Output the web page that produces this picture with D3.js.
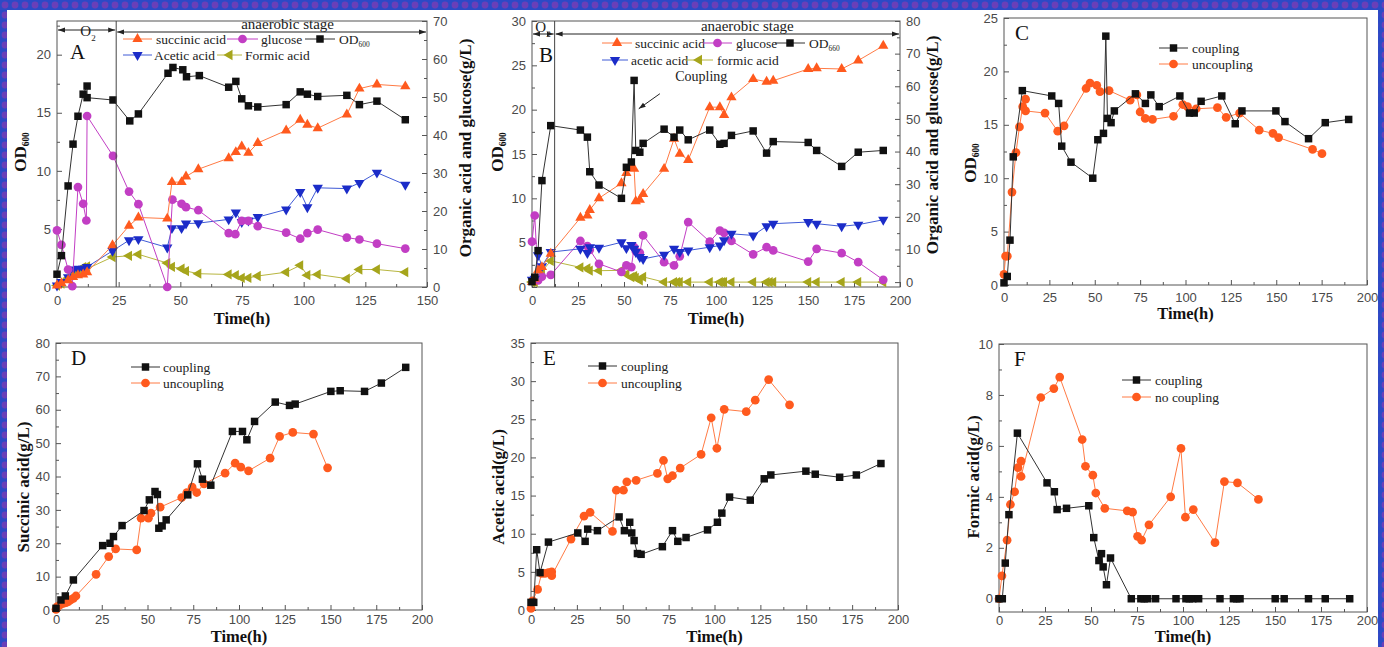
<!DOCTYPE html>
<html>
<head>
<meta charset="utf-8">
<script src="https://cdn.jsdelivr.net/npm/d3@7"></script>
<style>
  body { margin: 0; background: #fff; }
  text { font-family: "Liberation Serif", "Times New Roman", serif; }
  .tick text { font-family: "Liberation Sans", Arial, sans-serif; font-size: 13px; fill: #4a4a4a; }
  .tick line { stroke: #555; }
</style>
</head>
<body>
<svg id="chart" width="1384" height="647"></svg>
<script>
// ---- data (time h, value) ----
// panel A: uncoupling fermentation
var aOD = [[0,1.1],[1.8,2.7],[4.5,8.7],[6.5,12.3],[8.5,14.7],[10.6,16.6],[12.2,17.3],[12.2,16.3],[22.7,16.1],[29.5,14.3],[33,14.9],[45,18.4],[47,18.9],[51,18.7],[52.5,18.1],[57.7,18.2],[69.6,17.2],[72.5,17.7],[74.9,16.2],[77.6,15.6],[81.4,15.5],[92.9,15.7],[98.6,16.8],[101.5,16.6],[105.7,16.4],[117.5,16.5],[122.6,15.7],[129.7,16.0],[141.2,14.4]];
var aSuccinic = [[0,0.4],[1.8,1],[4.5,1.8],[6.5,2.6],[8.5,3.1],[10.6,3.3],[12.2,3.9],[22.5,11],[29.2,16.1],[33,18.3],[44.7,18],[46.6,27.6],[50.5,27.6],[52.3,29.1],[57.3,31],[69.6,33.9],[72.5,35.5],[74.9,37],[77.6,35.3],[81.4,37.9],[92.9,41.2],[98.6,44],[101.5,42.7],[105.7,41.8],[117.5,45.4],[122.6,52.2],[129.7,53.3],[141.2,52.8]];
var aGlucose = [[0,14.9],[1.8,11.1],[4.5,4.6],[6.2,0.2],[8.5,26.3],[10.6,21.9],[11.9,17.5],[12.2,45],[22.7,34.5],[29.2,25.1],[33,21.8],[44.7,0],[46.8,23],[50.5,21.9],[52.3,21],[57.3,20.2],[69.6,14.2],[72.3,13.9],[74.9,17.4],[77.6,17.4],[81.4,16],[92.9,14.3],[98.6,12.7],[101.5,14.2],[105.7,15.1],[117.5,13],[122.6,12.5],[129.7,11.4],[141.2,10.1]];
var aAcetic = [[0,0.4],[1.8,1.3],[4.5,2.6],[6.5,4.6],[8.5,4.8],[10.6,4.8],[12.2,5.3],[22.5,9.5],[29.2,12.3],[33,12.6],[44.7,10.4],[46.6,15.5],[50.5,15.5],[52.3,16.7],[57.3,16.8],[69.6,17.8],[72.5,19.6],[74.9,17.1],[77.6,17.5],[81.4,18.4],[92.9,20.4],[98.6,25],[101.5,21],[105.7,26.1],[117.5,25.9],[122.6,27.4],[129.7,30.1],[141.2,26.9]];
var aFormic = [[0,0.4],[1.8,0.9],[4.5,2.3],[6.5,3.7],[8.5,4.2],[10.6,5.2],[12.2,5.4],[12.2,4.8],[22.5,7.9],[29.2,8.2],[33,8.6],[44.7,6.3],[46.6,5.3],[50.5,4.8],[52.3,4.2],[57.3,3.5],[69.6,3.3],[72.5,3.1],[74.9,2.4],[77.6,2.4],[81.4,2.9],[92.9,3.9],[98.6,5.7],[101.5,3.1],[105.7,3.3],[117.5,2.2],[122.6,4.6],[129.7,4.6],[141.2,3.9]];

// panel B: coupling fermentation
var bOD = [[0,0.6],[1.5,1.1],[3.3,4.1],[5.4,12],[10.2,18.2],[26.3,17.7],[30.1,16.9],[31.4,13],[36.4,11.5],[48.6,10],[51.3,13.5],[54,14.1],[55.5,23.3],[56.4,15.4],[58.6,15.2],[60.4,16.2],[71.8,17.8],[77.2,16.9],[80.3,17.7],[84.9,16.6],[96.6,17.7],[102.1,16.1],[104.4,16.2],[108.4,17.1],[120.2,17.6],[127.5,15.1],[131.1,16.4],[150.1,16.3],[154.7,15.4],[168.3,13.6],[177.3,15.2],[190.9,15.4]];
var bSuccinic = [[0,0],[1.5,1],[3.3,3.6],[5.4,4.6],[10.2,8.7],[26.3,19.7],[30.1,20.4],[31.4,22.1],[36.4,25.7],[48.6,30.3],[51.3,33.4],[54,35.2],[55.5,34.7],[56.4,24.8],[58.6,25.2],[60.4,27],[71.8,34.7],[77.2,43.9],[80.3,39.3],[84.9,37.4],[96.6,53.6],[102.1,53.6],[104.4,51.2],[108.4,56.6],[120.2,62.2],[127.5,61.4],[131.1,61.7],[150.1,65.3],[154.7,65.5],[168.3,65.3],[177.3,67.9],[190.9,72.4]];
var bGlucose = [[0,12.4],[1.5,20.4],[3.3,0.5],[5.4,1.7],[10.2,2.2],[26.3,12.6],[30.1,11],[31.4,9.9],[36.4,5.6],[48.6,3.1],[51.3,5.1],[54,4.6],[55.5,10.7],[56.4,9.5],[58.6,9],[60.4,14.3],[71.8,6.1],[77.2,5.1],[80.3,7.9],[84.9,18.4],[96.6,12.4],[102.1,15.8],[104.4,15.1],[108.4,12.6],[120.2,8.5],[127.5,10.7],[131.1,9.7],[150.1,6.3],[154.7,10.2],[168.3,8.9],[177.3,6.1],[190.9,0.7]];
var bAcetic = [[0,0.7],[1.5,1.0],[3.3,8.2],[5.4,4.9],[10.2,9.2],[26.3,10.2],[30.1,8.9],[31.4,10.7],[36.4,10.5],[48.6,12.2],[51.3,10.4],[54,11.4],[55.5,10.2],[56.4,9.2],[58.6,7.7],[60.4,7.1],[71.8,8.4],[77.2,10.2],[80.3,9.2],[84.9,9.7],[96.6,10.7],[102.1,11.2],[104.4,12.8],[108.4,14.8],[120.2,14.3],[127.5,17.1],[131.1,17.9],[150.1,18.4],[154.7,17.9],[168.3,17.1],[177.3,17.6],[190.9,19.1]];
var bFormic = [[0,0],[1.5,0],[3.3,1.4],[5.4,3.3],[10.2,6.5],[26.3,4.5],[30.1,4.2],[31.4,3.5],[36.4,3.5],[48.6,3.6],[51.3,2.4],[54,1.5],[55.5,1.8],[56.4,1.3],[58.6,0.55],[60.4,1.6],[71.8,0],[77.2,0],[78.9,0],[80.3,0],[84.9,0],[96.6,0],[102.1,0],[103.4,0],[104.4,0],[108.4,0],[120.2,0],[127.5,0],[129.2,0],[131.1,0],[150.1,0],[154.7,0],[168.3,0],[177.3,0],[190.9,0]];

// panel C: OD600
var cCoupling = [[0,0.2],[1.8,0.8],[3.3,4.2],[5.1,12],[10.1,18.2],[26.3,17.7],[30.1,17],[31.8,13],[36.9,11.5],[48.9,10],[51.7,13.6],[54.8,14.2],[56.1,23.3],[57,15.6],[59,15.2],[60.8,16.3],[72.4,17.9],[77.9,17],[80.9,17.8],[85.5,16.7],[96.9,17.7],[102.2,16.1],[104.8,16.1],[108.6,17.2],[120,17.7],[127.4,15.1],[131.1,16.3],[149.8,16.3],[154.8,15.3],[167.8,13.7],[177,15.2],[189.9,15.5]];
var cUncoupling = [[0,1],[0.9,2.7],[1.8,2.7],[4.4,8.7],[6.6,12.4],[8.5,14.8],[10.3,16.7],[11.9,17.4],[11.9,16.3],[22.6,16.1],[29.6,14.4],[33.1,14.9],[45.2,18.4],[47.4,18.9],[51.1,18.7],[52.9,18.1],[57.9,18.2],[69.5,17.3],[73.2,17.8],[75,16.2],[77.8,15.6],[81.8,15.5],[93.4,15.8],[98.5,16.9],[101.1,16.7],[105.9,16.5],[117.6,16.6],[122.4,15.7],[129.8,16.1],[140.6,14.5],[148.2,14.2],[151.3,13.8],[170,12.7],[175.2,12.3]];

// panel D: succinic acid
var dCoupling = [[0,0.5],[2.7,3],[5.1,4.2],[9.5,9],[25.5,19.3],[29.5,20],[31.4,22],[36.1,25.3],[48.1,29.8],[51,33],[54.1,35.5],[55.4,34.6],[56.2,24.5],[58,25.2],[60.2,27],[72,34.5],[77.3,43.8],[80,39.2],[84.6,37.4],[96.4,53.5],[101.9,53.5],[104.3,51],[108.5,56.5],[119.8,62.3],[127.6,61.3],[130.7,61.7],[150.2,65.5],[155.3,65.7],[168.6,65.5],[177.8,68],[191.1,72.7]];
var dUncoupling = [[0,0.2],[0.7,1],[2.2,1.5],[4,2],[5.5,2.2],[6.7,2.5],[8,3],[9.5,3.5],[10.9,4.2],[21.9,10.7],[28.8,16],[32.6,18.3],[44.1,18],[46.5,27.5],[50.5,27.5],[51.9,29],[56.9,30.8],[68.7,33.7],[71.5,35.2],[74.4,36.8],[76.9,35.2],[80.9,37.8],[92.4,41],[97.9,44],[101,42.8],[105.2,41.7],[117,45.5],[122.2,52],[129.4,53.2],[140.7,52.7],[148.4,42.6]];

// panel E: acetic acid
var eCoupling = [[0,1],[1.5,1],[3.1,7.9],[4.9,4.9],[9.5,8.9],[25.5,10.1],[29.5,9],[30.9,10.6],[36.2,10.4],[48,12.2],[50.9,10.4],[53.8,11.5],[54.9,10.1],[56.2,9.1],[58,7.4],[60,7.3],[71.6,8.3],[77.1,10.4],[80,9],[84.5,9.5],[96.2,10.5],[101.6,11.5],[104,12.7],[108.2,14.8],[119.5,14.4],[127.1,17.2],[130.7,17.7],[149.8,18.2],[154.9,17.8],[168.2,17.4],[177.3,17.7],[190.7,19.2]];
var eUncoupling = [[0,0.2],[0.9,1.2],[3.6,2.7],[5.8,4.8],[7.6,4.8],[9.5,4.9],[11.3,5],[11.3,4.5],[21.8,9.3],[28.9,12.3],[32.2,12.8],[44.4,10.3],[46.5,15.7],[50.4,15.7],[52.2,16.8],[57.3,17],[68.9,17.9],[72.2,19.6],[74.5,17.2],[77.1,17.6],[81.3,18.6],[92.7,20.4],[98.2,25.2],[101.3,21.2],[105.3,26.3],[117.3,26],[122.2,27.5],[129.5,30.2],[140.9,26.9]];

// panel F: formic acid
var fCoupling = [[0,0],[1.8,0],[3.4,1.4],[5.4,3.3],[10,6.5],[26.1,4.55],[30.1,4.2],[31.6,3.5],[36.7,3.55],[48.8,3.65],[51.5,2.4],[54.3,1.5],[55.7,1.77],[56.6,1.25],[58.4,0.55],[60.6,1.6],[71.9,0],[77.1,0],[78.9,0],[80.8,0],[85.1,0],[96.2,0],[101.6,0],[103.4,0],[105.3,0],[108.5,0],[120.1,0],[127.4,0],[129.2,0],[131,0],[150.1,0],[155,0],[168.2,0],[177.3,0],[190.6,0]];
var fNoCoupling = [[0,0],[1.6,0.9],[4.4,2.3],[6.2,3.7],[8.5,4.2],[10.3,5.15],[12,5.4],[12,4.8],[22.7,7.9],[29.8,8.25],[33,8.7],[45.2,6.25],[47,5.2],[51,4.85],[52.6,4.15],[57.5,3.55],[69.7,3.45],[72.6,3.4],[75.3,2.45],[77.5,2.3],[81.5,2.9],[93.3,4],[98.9,5.9],[101.3,3.2],[105.6,3.5],[117.4,2.2],[122.5,4.6],[129.6,4.55],[141,3.9]];

// stage boundaries (h)
var aerobicEndA = 24;
var aerobicEndB = 12.3;

// tick values
var xTicks150 = d3.range(0, 151, 25);
var xTicks200 = d3.range(0, 201, 25);

var colors = {
  orange: "#ff5a1e", orangeLine: "#ff7b45",
  magenta: "#c23ec4", black: "#111", blackLine: "#333",
  blue: "#1b2cc8", blueLine: "#3f5ad6",
  olive: "#a6a51c", oliveLine: "#b8b640"
};

var svg = d3.select("#chart");
var defs = svg.append("defs");

// dotted blue page background
var pat = defs.append("pattern").attr("id", "dots")
  .attr("width", 10).attr("height", 10).attr("patternUnits", "userSpaceOnUse");
pat.append("rect").attr("width", 10).attr("height", 10).attr("fill", "#2b4ac6");
pat.append("circle").attr("cx", 5).attr("cy", 5).attr("r", 3.4).attr("fill", "#6a3fb8");

defs.append("marker").attr("id", "arr")
  .attr("viewBox", "0 0 10 10").attr("refX", 10).attr("refY", 5)
  .attr("markerWidth", 7).attr("markerHeight", 7)
  .attr("orient", "auto-start-reverse")
  .append("path").attr("d", "M0,1.5L10,5L0,8.5Z").attr("fill", "#222");

svg.append("rect").attr("width", 1384).attr("height", 647).attr("fill", "url(#dots)");
svg.append("rect").attr("x", 7).attr("y", 10).attr("width", 1371).attr("height", 637).attr("fill", "#fff");

var shapes = {
  square: { type: d3.symbolSquare, size: 56, rot: 0 },
  circle: { type: d3.symbolCircle, size: 60, rot: 0 },
  up: { type: d3.symbolTriangle, size: 46, rot: 0 },
  down: { type: d3.symbolTriangle, size: 46, rot: 180 },
  left: { type: d3.symbolTriangle, size: 46, rot: -90 }
};

function marker(g, px, py, shape, color) {
  var s = shapes[shape];
  g.append("path")
    .attr("d", d3.symbol().type(s.type).size(s.size)())
    .attr("transform", "translate(" + px + "," + py + ") rotate(" + s.rot + ")")
    .attr("fill", color);
}

function series(g, data, x, y, shape, color, lineColor) {
  g.append("path")
    .datum(data)
    .attr("fill", "none")
    .attr("stroke", lineColor)
    .attr("stroke-width", 1)
    .attr("d", d3.line().x((d) => x(d[0])).y((d) => y(d[1])));
  data.forEach((d) => marker(g, x(d[0]), y(d[1]), shape, color));
}

function odText(sel, sub) {
  sel.text("OD");
  sel.append("tspan").attr("font-size", "0.55em").attr("dy", "0.35em").text(sub);
}

function legendItem(g, x1, x2, yy, shape, color, lineColor, label, tx, sub) {
  g.append("line").attr("x1", x1).attr("x2", x2).attr("y1", yy).attr("y2", yy)
    .attr("stroke", lineColor).attr("stroke-width", 1);
  marker(g, (x1 + x2) / 2, yy, shape, color);
  var t = g.append("text").attr("x", tx).attr("y", yy + 5)
    .attr("font-size", "13.5px").attr("fill", "#222");
  if (sub) odText(t, sub); else t.text(label);
}

function yTitle(g, px, py, label, sub) {
  var t = g.append("text")
    .attr("transform", "translate(" + px + "," + py + ") rotate(-90)")
    .attr("text-anchor", "middle")
    .attr("font-size", "17px").attr("font-weight", "bold").attr("fill", "#111");
  if (sub) odText(t, sub); else t.text(label);
}

function panel(p) {
  var g = svg.append("g");
  var x = d3.scaleLinear().domain(p.xDomain).range([p.left, p.right]);
  var y = d3.scaleLinear().domain(p.yDomain).range([p.bottom, p.top]);
  var y2 = p.y2Domain ? d3.scaleLinear().domain(p.y2Domain).range([p.bottom, p.top]) : null;

  var xMinor = d3.range(p.xDomain[0] + 12.5, p.xDomain[1], 25);
  g.append("g").attr("transform", "translate(0," + p.bottom + ")")
    .call(d3.axisBottom(x).tickValues(p.xTicks).tickSize(-5).tickPadding(p.xPad))
    .call((a) => a.select(".domain").remove());
  g.append("g").attr("transform", "translate(0," + p.bottom + ")")
    .call(d3.axisBottom(x).tickValues(xMinor).tickSize(-3).tickFormat(""))
    .call((a) => a.select(".domain").remove());

  g.append("g").attr("transform", "translate(" + p.left + ",0)")
    .call(d3.axisLeft(y).tickValues(p.yTicks).tickSize(-5).tickPadding(6))
    .call((a) => a.select(".domain").remove());
  g.append("g").attr("transform", "translate(" + p.left + ",0)")
    .call(d3.axisLeft(y).tickValues(p.yMinor).tickSize(-3).tickFormat(""))
    .call((a) => a.select(".domain").remove());

  if (y2) {
    g.append("g").attr("transform", "translate(" + p.right + ",0)")
      .call(d3.axisRight(y2).tickValues(p.y2Ticks).tickSize(-5).tickPadding(6))
      .call((a) => a.select(".domain").remove());
    g.append("g").attr("transform", "translate(" + p.right + ",0)")
      .call(d3.axisRight(y2).tickValues(p.y2Minor).tickSize(-3).tickFormat(""))
      .call((a) => a.select(".domain").remove());
  }

  g.append("rect")
    .attr("x", p.left).attr("y", p.top)
    .attr("width", p.right - p.left).attr("height", p.bottom - p.top)
    .attr("fill", "none").attr("stroke", "#555").attr("stroke-width", 1);

  p.series.forEach((s) => series(g, s.data, x, s.right ? y2 : y, s.shape, s.color, s.line));

  g.append("text").attr("x", p.letterX).attr("y", p.letterY)
    .attr("font-size", "21px").attr("fill", "#111").text(p.letter);

  g.append("text").attr("x", (p.left + p.right) / 2).attr("y", p.bottom + p.titleDy)
    .attr("text-anchor", "middle").attr("font-size", "16.5px").attr("font-weight", "bold")
    .attr("fill", "#111").text("Time(h)");

  return { g: g, x: x, y: y, y2: y2 };
}

function stages(pp, p, tEnd, o2Y, anY, o2X, o2TextY, anShift) {
  var g = pp.g, x = pp.x;
  g.append("line").attr("x1", x(tEnd)).attr("x2", x(tEnd))
    .attr("y1", p.top).attr("y2", p.bottom).attr("stroke", "#444");
  // aerobic arrow with O2 label
  g.append("line").attr("x1", x(p.xDomain[0]) + 1).attr("x2", x(tEnd) - 1)
    .attr("y1", o2Y).attr("y2", o2Y).attr("stroke", "#222")
    .attr("marker-start", "url(#arr)").attr("marker-end", "url(#arr)");
  var o2 = g.append("text").attr("x", o2X).attr("y", o2TextY)
    .attr("text-anchor", "middle").attr("font-family", "Liberation Sans, Arial, sans-serif")
    .attr("font-size", "15px").attr("fill", "#222");
  o2.text("O");
  o2.append("tspan").attr("font-size", "9px").attr("dy", 5).text("2");
  // anaerobic arrow
  g.append("line").attr("x1", x(tEnd) + 1).attr("x2", x(p.xDomain[1]) - 1)
    .attr("y1", anY).attr("y2", anY).attr("stroke", "#222")
    .attr("marker-start", "url(#arr)").attr("marker-end", "url(#arr)");
  g.append("text").attr("x", (x(tEnd) + x(p.xDomain[1])) / 2 + anShift).attr("y", anY - 3)
    .attr("text-anchor", "middle").attr("font-size", "15px").attr("fill", "#222")
    .text("anaerobic stage");
}

// ---------- Panel A ----------
var pA = {
  left: 57, right: 427, top: 21, bottom: 287, titleDy: 37, xPad: 9,
  xDomain: [0, 150], xTicks: xTicks150,
  yDomain: [0, 22.9], yTicks: d3.range(0, 21, 5), yMinor: d3.range(2.5, 23, 5),
  y2Domain: [0, 70], y2Ticks: d3.range(0, 71, 10), y2Minor: d3.range(5, 70, 10),
  letter: "A", letterX: 70, letterY: 59,
  series: [
    { data: aFormic, right: true, shape: "left", color: colors.olive, line: colors.oliveLine },
    { data: aAcetic, right: true, shape: "down", color: colors.blue, line: colors.blueLine },
    { data: aGlucose, right: true, shape: "circle", color: colors.magenta, line: colors.magenta },
    { data: aSuccinic, right: true, shape: "up", color: colors.orange, line: colors.orangeLine },
    { data: aOD, right: false, shape: "square", color: colors.black, line: colors.blackLine }
  ]
};
var A = panel(pA);
stages(A, pA, aerobicEndA, 30, 32, 88, 36, 16);
legendItem(A.g, 123, 152, 39, "up", colors.orange, colors.orangeLine, "succinic acid", 156);
legendItem(A.g, 227, 258, 39, "circle", colors.magenta, colors.magenta, "glucose", 261);
legendItem(A.g, 305, 335, 39, "square", colors.black, colors.blackLine, "", 339, "600");
legendItem(A.g, 123, 152, 55, "down", colors.blue, colors.blueLine, "Acetic acid", 154);
legendItem(A.g, 217, 242, 55, "left", colors.olive, colors.oliveLine, "Formic acid", 245);
yTitle(A.g, 26, 152, "", "600");
yTitle(A.g, 471, 148, "Organic acid and glucose(g/L)");

// ---------- Panel B ----------
var pB = {
  left: 532, right: 900, top: 21, bottom: 287, titleDy: 37, xPad: 9,
  xDomain: [0, 200], xTicks: xTicks200,
  yDomain: [0, 30], yTicks: d3.range(0, 31, 5), yMinor: d3.range(2.5, 30, 5),
  y2Domain: [-1.5, 80], y2Ticks: d3.range(0, 81, 10), y2Minor: d3.range(5, 80, 10),
  letter: "B", letterX: 539, letterY: 62,
  series: [
    { data: bFormic, right: true, shape: "left", color: colors.olive, line: colors.oliveLine },
    { data: bGlucose, right: true, shape: "circle", color: colors.magenta, line: colors.magenta },
    { data: bAcetic, right: true, shape: "down", color: colors.blue, line: colors.blueLine },
    { data: bSuccinic, right: true, shape: "up", color: colors.orange, line: colors.orangeLine },
    { data: bOD, right: false, shape: "square", color: colors.black, line: colors.blackLine }
  ]
};
var B = panel(pB);
stages(B, pB, aerobicEndB, 34, 34, 543, 32, 20);
legendItem(B.g, 602, 632, 43, "up", colors.orange, colors.orangeLine, "succinic acid", 635);
legendItem(B.g, 703, 732, 43, "circle", colors.magenta, colors.magenta, "glucose", 736);
legendItem(B.g, 775, 805, 43, "square", colors.black, colors.blackLine, "", 809, "660");
legendItem(B.g, 602, 628, 60, "down", colors.blue, colors.blueLine, "acetic acid", 631);
legendItem(B.g, 685, 713, 60, "left", colors.olive, colors.oliveLine, "formic acid", 717);
yTitle(B.g, 503, 152, "", "600");
yTitle(B.g, 938, 145, "Organic acid and glucose(g/L)");
B.g.append("text").attr("x", B.x(92)).attr("y", B.y(23.2))
  .attr("text-anchor", "middle").attr("font-size", "14px").attr("fill", "#222").text("Coupling");
B.g.append("line").attr("x1", B.x(69.5)).attr("y1", B.y(21.8)).attr("x2", B.x(58)).attr("y2", B.y(20.1))
  .attr("stroke", "#222").attr("marker-end", "url(#arr)");

// ---------- Panel C ----------
var pC = {
  left: 1004, right: 1367, top: 18, bottom: 285, titleDy: 34, xPad: 8,
  xDomain: [0, 200], xTicks: xTicks200,
  yDomain: [0, 25], yTicks: d3.range(0, 26, 5), yMinor: d3.range(2.5, 25, 5),
  letter: "C", letterX: 1015, letterY: 40,
  series: [
    { data: cUncoupling, shape: "circle", color: colors.orange, line: colors.orangeLine },
    { data: cCoupling, shape: "square", color: colors.black, line: colors.blackLine }
  ]
};
var C = panel(pC);
legendItem(C.g, 1159, 1188, 48, "square", colors.black, colors.blackLine, "coupling", 1192);
legendItem(C.g, 1159, 1188, 64, "circle", colors.orange, colors.orangeLine, "uncoupling", 1192);
yTitle(C.g, 976, 163, "", "600");

// ---------- Panel D ----------
var pD = {
  left: 56, right: 422, top: 343, bottom: 610, titleDy: 32, xPad: 5,
  xDomain: [0, 200], xTicks: xTicks200,
  yDomain: [0, 80], yTicks: d3.range(0, 81, 10), yMinor: d3.range(5, 80, 10),
  letter: "D", letterX: 71, letterY: 365,
  series: [
    { data: dUncoupling, shape: "circle", color: colors.orange, line: colors.orangeLine },
    { data: dCoupling, shape: "square", color: colors.black, line: colors.blackLine }
  ]
};
var D = panel(pD);
legendItem(D.g, 131, 160, 367, "square", colors.black, colors.blackLine, "coupling", 163);
legendItem(D.g, 131, 160, 383, "circle", colors.orange, colors.orangeLine, "uncoupling", 163);
yTitle(D.g, 29, 487, "Succinic acid(g/L)");

// ---------- Panel E ----------
var pE = {
  left: 531, right: 898, top: 343, bottom: 610, titleDy: 32, xPad: 5,
  xDomain: [0, 200], xTicks: xTicks200,
  yDomain: [0, 35], yTicks: d3.range(0, 36, 5), yMinor: d3.range(2.5, 35, 5),
  letter: "E", letterX: 543, letterY: 365,
  series: [
    { data: eUncoupling, shape: "circle", color: colors.orange, line: colors.orangeLine },
    { data: eCoupling, shape: "square", color: colors.black, line: colors.blackLine }
  ]
};
var E = panel(pE);
legendItem(E.g, 588, 617, 366, "square", colors.black, colors.blackLine, "coupling", 621);
legendItem(E.g, 588, 617, 383, "circle", colors.orange, colors.orangeLine, "uncoupling", 621);
yTitle(E.g, 504, 487, "Acetic acid(g/L)");

// ---------- Panel F ----------
var pF = {
  left: 999, right: 1367, top: 344, bottom: 612, titleDy: 30, xPad: 4,
  xDomain: [0, 200], xTicks: xTicks200,
  yDomain: [-0.52, 10], yTicks: d3.range(0, 11, 2), yMinor: d3.range(1, 10, 2),
  letter: "F", letterX: 1014, letterY: 366,
  series: [
    { data: fNoCoupling, shape: "circle", color: colors.orange, line: colors.orangeLine },
    { data: fCoupling, shape: "square", color: colors.black, line: colors.blackLine }
  ]
};
var F = panel(pF);
legendItem(F.g, 1122, 1151, 380, "square", colors.black, colors.blackLine, "coupling", 1155);
legendItem(F.g, 1122, 1151, 397, "circle", colors.orange, colors.orangeLine, "no coupling", 1155);
yTitle(F.g, 979, 477, "Formic acid(g/L)");
</script>
</body>
</html>
